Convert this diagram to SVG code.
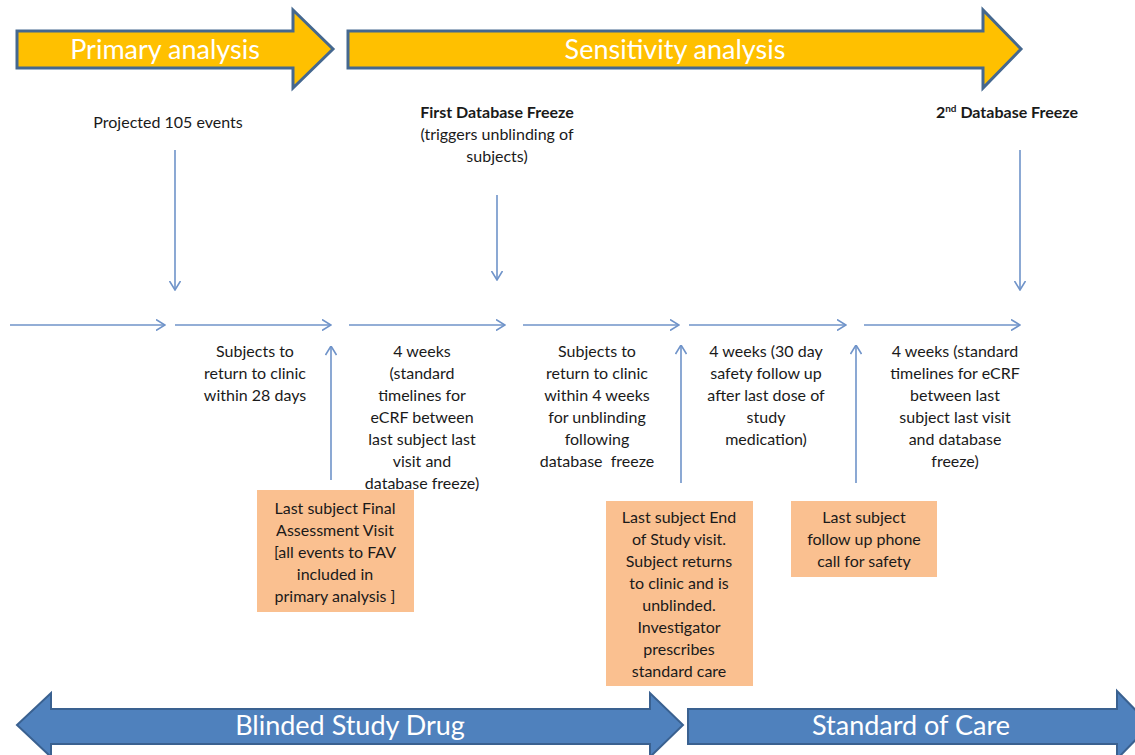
<svg xmlns="http://www.w3.org/2000/svg" width="1135" height="755" viewBox="0 0 1135 755">
<defs>
<marker id="chev" viewBox="0 0 10 12" refX="9.5" refY="6" markerWidth="10" markerHeight="12" markerUnits="userSpaceOnUse" orient="auto">
<path d="M0.5,0.5 L9.5,6 L0.5,11.5" fill="none" stroke="#6f93c9" stroke-width="1.6"/>
</marker>
<style>
.t{font-family:Lato,"Liberation Sans",sans-serif;font-size:16px;fill:#1a1a1a;text-anchor:middle}
.b{font-weight:bold}
.big{font-family:Lato,"Liberation Sans",sans-serif;font-size:27px;fill:#ffffff;text-anchor:middle}
.ya{fill:#ffc000;stroke:#45688f;stroke-width:3;stroke-linejoin:miter}
.ba{fill:#4f81bd;stroke:#3a6190;stroke-width:2}
.box{fill:#fac090}
.c{fill:none;stroke:#6f93c9;stroke-width:1.6;marker-end:url(#chev)}
</style>
</defs>
<rect width="1135" height="755" fill="#ffffff"/>

<g id="primary-analysis">
<path class="ya" d="M17,31 L293,31 L293,10 L333,49 L293,88 L293,68 L17,68 Z"/>
<text class="big" x="165" y="59">Primary analysis</text>
</g>
<g id="sensitivity-analysis">
<path class="ya" d="M348,31 L983,31 L983,10 L1021,49 L983,88 L983,68 L348,68 Z"/>
<text class="big" x="675" y="59">Sensitivity analysis</text>
</g>

<g id="projected-events">
<text class="t" x="168" y="128">Projected 105 events</text>
</g>
<g id="first-freeze">
<text class="t" x="497" y="118"><tspan class="b">First Database Freeze</tspan><tspan x="497" dy="22">(triggers unblinding of</tspan><tspan x="497" dy="22">subjects)</tspan></text>
</g>
<g id="second-freeze">
<text class="t b" x="1007" y="118">2<tspan font-size="10" dy="-6">nd</tspan><tspan dy="6"> Database Freeze</tspan></text>
</g>

<g id="label-28days">
<text class="t" x="255" y="357">Subjects to<tspan x="255" dy="22">return to clinic</tspan><tspan x="255" dy="22">within 28 days</tspan></text>
</g>
<g id="label-4weeks-1">
<text class="t" x="422" y="357">4 weeks<tspan x="422" dy="22">(standard</tspan><tspan x="422" dy="22">timelines for</tspan><tspan x="422" dy="22">eCRF between</tspan><tspan x="422" dy="22">last subject last</tspan><tspan x="422" dy="22">visit and</tspan><tspan x="422" dy="22">database freeze)</tspan></text>
</g>
<g id="label-unblinding">
<text class="t" x="597" y="357">Subjects to<tspan x="597" dy="22">return to clinic</tspan><tspan x="597" dy="22">within 4 weeks</tspan><tspan x="597" dy="22">for unblinding</tspan><tspan x="597" dy="22">following</tspan><tspan x="597" dy="22" xml:space="preserve">database  freeze</tspan></text>
</g>
<g id="label-30day">
<text class="t" x="766" y="357">4 weeks (30 day<tspan x="766" dy="22">safety follow up</tspan><tspan x="766" dy="22">after last dose of</tspan><tspan x="766" dy="22">study</tspan><tspan x="766" dy="22">medication)</tspan></text>
</g>
<g id="label-4weeks-2">
<text class="t" x="955" y="357">4 weeks (standard<tspan x="955" dy="22">timelines for eCRF</tspan><tspan x="955" dy="22">between last</tspan><tspan x="955" dy="22">subject last visit</tspan><tspan x="955" dy="22">and database</tspan><tspan x="955" dy="22">freeze)</tspan></text>
</g>

<g id="box-fav">
<rect class="box" x="257" y="490" width="157" height="122"/>
<text class="t" x="335" y="514">Last subject Final<tspan x="335" dy="22">Assessment Visit</tspan><tspan x="335" dy="22">[all events to FAV</tspan><tspan x="335" dy="22">included in</tspan><tspan x="335" dy="22">primary analysis ]</tspan></text>
</g>
<g id="box-eos">
<rect class="box" x="606" y="501" width="147" height="185"/>
<text class="t" x="679" y="523">Last subject End<tspan x="679" dy="22">of Study visit.</tspan><tspan x="679" dy="22">Subject returns</tspan><tspan x="679" dy="22">to clinic and is</tspan><tspan x="679" dy="22">unblinded.</tspan><tspan x="679" dy="22">Investigator</tspan><tspan x="679" dy="22">prescribes</tspan><tspan x="679" dy="22">standard care</tspan></text>
</g>
<g id="box-phone">
<rect class="box" x="791" y="501" width="146" height="76"/>
<text class="t" x="864" y="523">Last subject<tspan x="864" dy="22">follow up phone</tspan><tspan x="864" dy="22">call for safety</tspan></text>
</g>

<g id="connectors">
<line class="c" x1="175" y1="150" x2="175" y2="290"/>
<line class="c" x1="497" y1="195" x2="497" y2="280"/>
<line class="c" x1="1020" y1="150" x2="1020" y2="290"/>
<line class="c" x1="10" y1="325" x2="165" y2="325"/>
<line class="c" x1="175" y1="325" x2="331" y2="325"/>
<line class="c" x1="349" y1="325" x2="505" y2="325"/>
<line class="c" x1="523" y1="325" x2="679" y2="325"/>
<line class="c" x1="689" y1="325" x2="846" y2="325"/>
<line class="c" x1="864" y1="325" x2="1020" y2="325"/>
<line class="c" x1="331" y1="480" x2="331" y2="346"/>
<line class="c" x1="681" y1="483" x2="681" y2="345"/>
<line class="c" x1="856" y1="483" x2="856" y2="345"/>
</g>

<g id="blinded-study-drug">
<path class="ba" d="M17,725 L51,693 L51,709 L650,709 L650,693 L683,725 L650,757 L650,744 L51,744 L51,757 Z"/>
<text class="big" x="350" y="735">Blinded Study Drug</text>
</g>
<g id="standard-of-care">
<path class="ba" d="M688,709 L1117,709 L1117,691 L1150,725 L1117,759 L1117,744 L688,744 Z"/>
<text class="big" x="911" y="735">Standard of Care</text>
</g>
</svg>
